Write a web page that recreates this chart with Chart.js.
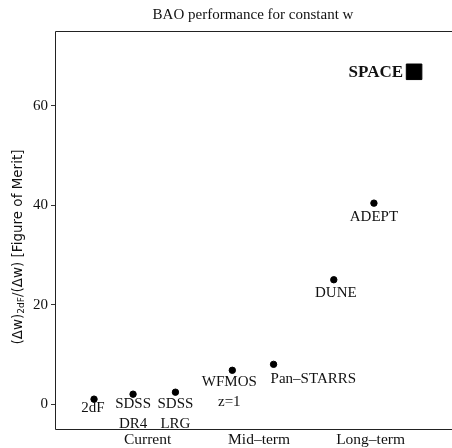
<!DOCTYPE html>
<html>
<head>
<meta charset="utf-8">
<script src="https://cdn.jsdelivr.net/npm/chart.js@4/dist/chart.umd.min.js"></script>
<style>
  html,body{margin:0;padding:0;background:#fff;}
  #box{width:452px;height:448px;}
</style>
</head>
<body>
<div id="box"><canvas id="miGrafico"></canvas></div>
<script>
// data
const phases = ['Current', 'Mid\u2013term', 'Long\u2013term'];
const phasePos = [1, 2, 3];
const projects = [['2dF'], ['SDSS', 'DR4'], ['SDSS', 'LRG'], ['WFMOS', 'z=1'], ['Pan\u2013STARRS'], ['DUNE'], ['ADEPT']];
const projX = [0.52, 0.87, 1.25, 1.76, 2.13, 2.67, 3.03];
const fom = [1.0, 2.0, 2.4, 6.8, 8.0, 25, 40.4];
const spaceName = 'SPACE';
const spaceX = [3.39];
const spaceFom = [66.8];
const yTicks = [0, 20, 40, 60];

// where each label sits relative to its dot: [dx, dy, align]
const labelPlace = [[-1, 9, 'center'], [0, 10, 'center'], [0, 12, 'center'], [-3, 12, 'center'],
  [-3, 15, 'left'], [2, 13, 'center'], [0, 14, 'center']];

const serif = '"Liberation Serif", "DejaVu Serif", serif';

const decor = {
  id: 'decor',
  afterDraw(chart) {
    const ctx = chart.ctx, a = chart.chartArea;
    const xs = chart.scales.x, ys = chart.scales.y;
    ctx.save();
    // frame
    ctx.strokeStyle = '#222';
    ctx.lineWidth = 1;
    ctx.beginPath();
    ctx.moveTo(a.right + 1, a.top + 0.5);
    ctx.lineTo(a.left + 0.5, a.top + 0.5);
    ctx.lineTo(a.left + 0.5, a.bottom + 0.5);
    ctx.lineTo(a.right + 1, a.bottom + 0.5);
    ctx.stroke();
    // title
    ctx.fillStyle = '#111';
    ctx.font = '15px ' + serif;
    ctx.textAlign = 'center';
    ctx.textBaseline = 'middle';
    ctx.fillText('BAO performance for constant w', 253, 15);
    // point labels
    ctx.font = '15px ' + serif;
    projects.forEach((lines, i) => {
      const p = labelPlace[i];
      const px = xs.getPixelForValue(projX[i]) + p[0];
      const py = ys.getPixelForValue(fom[i]) + p[1];
      ctx.textAlign = p[2];
      lines.forEach((t, k) => ctx.fillText(t, px, py + k * 20));
    });
    ctx.font = 'bold 17px ' + serif;
    ctx.textAlign = 'right';
    ctx.fillText(spaceName, xs.getPixelForValue(spaceX[0]) - 11, ys.getPixelForValue(spaceFom[0]) + 1);
    // y title with subscript
    ctx.translate(18, 247);
    ctx.rotate(-Math.PI / 2);
    const f1 = '13.5px "DejaVu Sans", sans-serif', f2 = '9px "DejaVu Sans", sans-serif';
    const parts = [['(\u0394w)', f1, 0], ['2dF', f2, 4], ['/(\u0394w) [Figure of Merit]', f1, 0]];
    let w = 0;
    parts.forEach(q => { ctx.font = q[1]; w += ctx.measureText(q[0]).width; });
    let x = -w / 2;
    ctx.textAlign = 'left';
    parts.forEach(q => { ctx.font = q[1]; ctx.fillText(q[0], x, q[2]); x += ctx.measureText(q[0]).width; });
    ctx.restore();
  }
};

new Chart(document.getElementById('miGrafico'), {
  type: 'scatter',
  data: {
    datasets: [{
      data: projX.map((x, i) => ({x: x, y: fom[i]})),
      backgroundColor: '#000',
      borderColor: '#000',
      pointRadius: 3.2,
      pointHoverRadius: 3.2
    }, {
      data: spaceX.map((x, i) => ({x: x, y: spaceFom[i]})),
      pointStyle: 'rect',
      backgroundColor: '#000',
      borderColor: '#000',
      pointRadius: 11,
      pointHoverRadius: 11
    }]
  },
  options: {
    responsive: true,
    maintainAspectRatio: false,
    animation: false,
    events: [],
    layout: {autoPadding: false, padding: {top: 31, right: 0, left: 0, bottom: 0}},
    plugins: {legend: {display: false}, tooltip: {enabled: false}},
    scales: {
      x: {
        type: 'linear',
        min: 0.17,
        max: 3.73,
        afterBuildTicks: s => { s.ticks = phasePos.map(v => ({value: v})); },
        afterFit: s => { s.height = 19; },
        grid: {display: false, drawTicks: false},
        border: {display: false},
        ticks: {
          callback: (v) => phases[phasePos.indexOf(v)] || '',
          color: '#111',
          padding: 2,
          font: {family: serif, size: 15.5},
          maxRotation: 0
        }
      },
      y: {
        min: -5,
        max: 75,
        afterBuildTicks: s => { s.ticks = yTicks.map(v => ({value: v})); },
        afterFit: s => { s.width = 55; },
        grid: {drawOnChartArea: false, tickLength: 4, color: '#333'},
        border: {display: false},
        ticks: {color: '#111', padding: 3, font: {family: serif, size: 15}}
      }
    }
  },
  plugins: [decor]
});
</script>
</body>
</html>
